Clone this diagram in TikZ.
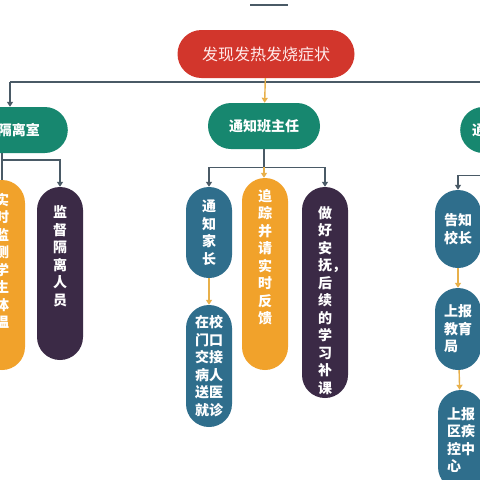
\documentclass[tikz,border=0pt]{standalone}
\usepackage{fontspec}
\usepackage{xcolor}
\usepackage{tikz}
\usetikzlibrary{arrows.meta, positioning}
\newfontfamily\cjk{Noto Sans CJK SC}
\definecolor{redbox}{HTML}{D2362C}
\definecolor{greenbox}{HTML}{17876F}
\definecolor{orangebox}{HTML}{F1A22B}
\definecolor{purplebox}{HTML}{3B2A46}
\definecolor{bluebox}{HTML}{2F6E8C}
\definecolor{linkc}{HTML}{4A5A66}
\definecolor{hotc}{HTML}{E8B04A}
\newcommand\padb[1]{\\\rule{0pt}{#1}}
\tikzset{
  box/.style={rectangle, rounded corners=23pt, text=white, inner sep=0pt, align=center,
    font=\cjk\bfseries\fontsize{14}{17.5}\selectfont},
  capsule/.style={box, minimum width=46pt},
  bar/.style={box, minimum height=46pt},
  link/.style={draw=linkc, line width=1.4pt},
  hot/.style={draw=hotc, line width=1.4pt},
  tip/.style={-{Triangle[width=6pt,length=5pt]}}
}

\begin{document}
\begin{tikzpicture}[x=1pt, y=-1pt]
            \useasboundingbox (0,0) rectangle (480,480);
            \fill[white] (0,0) rectangle (480,480);
            \clip (0,0) rectangle (480,480);
            \draw[line width=2.5pt, color=linkc] (250,5) -- (288,5);
            % top
            \node[bar, fill=redbox, minimum width=177pt, minimum height=48pt, rounded corners=24pt,
                  text=red!8, font=\cjk\fontsize{16}{18}\selectfont] (root) at (266,54) {发现发热发烧症状};
            % second row
            \node[bar, fill=greenbox, anchor=east, inner xsep=28pt] (g1) at (68,130) {隔离室};
            \node[bar, fill=greenbox, minimum width=112pt] (g2) at (264,126) {通知班主任};
            \node[bar, fill=greenbox, anchor=west, inner xsep=12pt] (g3) at (460,130) {通知学校};
            % left
            \node[capsule, fill=orangebox, minimum height=190pt] (o1) at (2,275)
                {实\\时\\监\\测\\学\\生\\体\\温\padb{27pt}};
            \node[capsule, fill=purplebox, minimum height=173pt] (p1) at (60,273.5)
                {监\\督\\隔\\离\\人\\员\padb{33pt}};
            % middle
            \node[capsule, fill=bluebox, minimum height=91pt] (b1) at (209,232.5) {通\\知\\家\\长};
            \node[capsule, fill=bluebox, minimum height=122pt] (b2) at (209,366)
                {在校\\门口\\交接\\病人\\送医\\就诊};
            \node[capsule, fill=orangebox, minimum height=192pt] (o2) at (265,274)
                {追\\踪\\并\\请\\实\\时\\反\\馈\padb{33pt}};
            \node[capsule, fill=purplebox, minimum height=211pt] (p2) at (325,292.5)
                {\rule{0pt}{10pt}\\做\\好\\安\\抚\rlap{，}\\后\\续\\的\\学\\习\\补\\课};
            % right
            \node[capsule, fill=bluebox, minimum height=78pt] (r1) at (458,229) {告知\\校长};
            \node[capsule, fill=bluebox, minimum height=82pt, align=left] (r2) at (458,329)
                {上报\\教育\\局};
            \node[capsule, fill=bluebox, minimum height=100pt, align=left] (r3) at (461,440)
                {上报\\区疾\\控中\\心};

            \coordinate (busL) at (10,82);
            \draw[link] (busL) -- (g3.north |- busL);
            \draw[link, tip] (busL) -- (busL |- g1.north);
            \draw[link, tip] (g3.north |- busL) -- (g3.north);
            \draw[hot, tip] (root) -- (g2);

            \draw[link] (o1.north |- g1.south) -- (o1.north);
            \draw[link, tip] (o1.north |- 0,160) -| (p1.north);

            \draw[link, tip] (g2.south) -- ++(0,18) -| (b1.north);
            \draw[link, tip] (g2.south) ++(0,18) -| (p2.north);
            \draw[hot, tip] (g2.south) ++(0,18) -- (g2.south |- o2.north);
            \draw[hot, tip] (b1) -- (b2);

            \draw[link, tip] (g3.south) -- ++(0,22) -| (r1.north);
            \draw[hot, tip] (r1) -- (r2);
            \draw[hot, tip] (r2) -- (r3);
        \end{tikzpicture}
\end{document}
